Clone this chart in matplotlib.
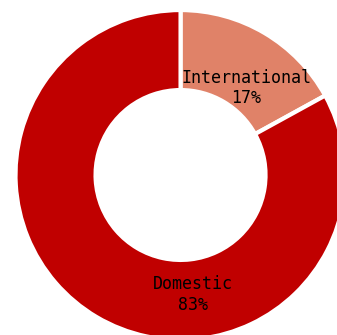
import matplotlib.pyplot as plt
import numpy as np

# share of passengers by market
categories = ['International', 'Domestic']
shares = [17, 83]
colors = ['#E08268', '#C00000']

# where each label sits: angle (deg) and distance from centre (fraction of radius)
label_angles = [53, -84]
label_radii = [0.66, 0.73]

fig = plt.figure(figsize=(3.37, 3.35), dpi=100)
ax = fig.add_axes([0, 0, 1, 1])

wedges, _ = ax.pie(shares, colors=colors, startangle=90, counterclock=False,
                   radius=1.0, wedgeprops=dict(width=0.485, edgecolor='white', linewidth=3))

for name, val, ang, r in zip(categories, shares, label_angles, label_radii):
    x = r * np.cos(np.radians(ang))
    y = r * np.sin(np.radians(ang))
    ax.text(x, y, f"{name}\n{val}%", ha='center', va='center', multialignment='center',
            fontsize=12, family='DejaVu Sans Mono', linespacing=1.2, color='black')

ax.set_xlim(-1.094, 0.948)
ax.set_ylim(-0.970, 1.061)
ax.set_aspect('auto')
ax.axis('off')

fig.savefig('out.png', dpi=100)
